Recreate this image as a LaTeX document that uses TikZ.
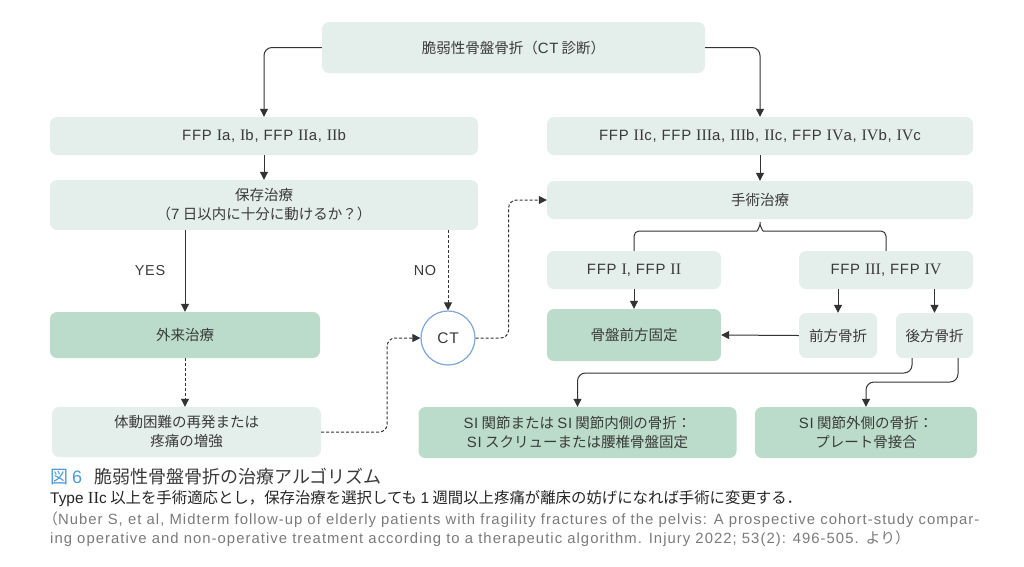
\documentclass[tikz,border=0pt]{standalone}
\usepackage{fontspec}
\setmainfont{Noto Sans CJK JP}
\newfontfamily\latfont{Liberation Sans}
\newfontfamily\boxlat[LetterSpace=5,Scale=1.03]{Liberation Sans}
\newfontfamily\reffont[LetterSpace=7]{Liberation Sans}
\newfontfamily\romfont[Scale=1.1]{Liberation Serif}
\newcommand\rn[1]{{\romfont #1}}
\usetikzlibrary{arrows.meta,calc}

\definecolor{boxlight}{HTML}{E4EEEA}
\definecolor{boxdark}{HTML}{BBDCCA}
\definecolor{linecol}{HTML}{333333}
\definecolor{textcol}{HTML}{3A3A3A}
\definecolor{ctblue}{HTML}{7EA6D8}
\definecolor{figblue}{HTML}{4A9BD6}
\definecolor{refgray}{HTML}{7A7A7A}

\tikzset{
  lightbox/.style={rounded corners=7pt, fill=boxlight, text=textcol, align=center,
    font=\fontsize{14.5}{19}\selectfont, inner sep=0pt},
  darkbox/.style={lightbox, fill=boxdark},
  conn/.style={draw=linecol, line width=1pt, rounded corners=8pt},
  arr/.style={conn, -{Triangle[length=8pt,width=8pt]}},
  dasharr/.style={arr, dashed, dash pattern=on 3pt off 2pt},
  lbl/.style={text=textcol, font=\boxlat\fontsize{14}{16}\selectfont}
}

\begin{document}
\begin{tikzpicture}[x=1pt,y=-1pt]
    \useasboundingbox (0,0) rectangle (1024,566);

    % boxes
    \node[lightbox, minimum width=383pt, minimum height=51pt] (diag) at (513.5,47.5) {脆弱性骨盤骨折（{\boxlat CT} 診断）};
    \node[lightbox, minimum width=428pt, minimum height=38pt] (ffpA) at (264,136)
      {\boxlat FFP \rn{I}a, \rn{I}b, FFP \rn{II}a, \rn{II}b};
    \node[lightbox, minimum width=426pt, minimum height=38pt] (ffpB) at (760,136)
      {\boxlat FFP \rn{II}c, FFP \rn{III}a, \rn{III}b, \rn{II}c, FFP \rn{IV}a, \rn{IV}b, \rn{IV}c};
    \node[lightbox, minimum width=428pt, minimum height=50pt] (hozon) at (264,205) {保存治療\\（{\boxlat 7} 日以内に十分に動けるか？）};
    \node[lightbox, minimum width=426pt, minimum height=38pt] (shujutsu) at (760,200) {手術治療};
    \node[lightbox, minimum width=174pt, minimum height=38pt] (ffp12) at (634,270) {\boxlat FFP \rn{I}, FFP \rn{II}};
    \node[lightbox, minimum width=174pt, minimum height=38pt] (ffp34) at (886,270) {\boxlat FFP \rn{III}, FFP \rn{IV}};
    \node[darkbox, minimum width=174pt, minimum height=52pt] (kotei) at (634,335) {骨盤前方固定};
    \node[lightbox, minimum width=78pt, minimum height=45pt] (zenpo) at (838,335.5) {前方骨折};
    \node[lightbox, minimum width=77pt, minimum height=45pt] (koho) at (934.5,335.5) {後方骨折};
    \node[darkbox, minimum width=270pt, minimum height=46pt] (gairai) at (185,335) {外来治療};
    \node[lightbox, minimum width=269pt, minimum height=50pt] (taido) at (186.5,432) {体動困難の再発または\\疼痛の増強};
    \node[circle, draw=ctblue, line width=1.2pt, fill=white, minimum size=54pt, inner sep=0pt,
      text=textcol, font=\boxlat\fontsize{15}{16}\selectfont] (ct) at (448,338) {CT};
    \node[darkbox, minimum width=318pt, minimum height=51pt] (si1) at (577.5,432.5)
      {{\boxlat SI} 関節または {\boxlat SI} 関節内側の骨折：\\{\boxlat SI} スクリューまたは腰椎骨盤固定};
    \node[darkbox, minimum width=222pt, minimum height=51pt] (si2) at (866,432.5) {{\boxlat SI} 関節外側の骨折：\\プレート骨接合};

    % connectors
    \draw[arr] (diag.west) -| (ffpA.north);
    \draw[arr] (diag.east) -| (ffpB.north);
    \draw[arr] (ffpA.south) -- (hozon.north);
    \draw[arr] (ffpB.south) -- (shujutsu.north);
    \draw[arr] (gairai.north |- hozon.south) -- node[lbl, midway, left=16pt] {YES} (gairai.north);
    \draw[dasharr] (ct.north |- hozon.south) -- node[lbl, midway, left=8pt] {NO} (ct.north);
    \draw[dasharr] (gairai.south) -- (gairai.south |- taido.north);
    \draw[dasharr] (taido.east) -- ++(66,0) |- (ct.west);
    \draw[dasharr] (ct.east) -- ++(33,0) |- (shujutsu.west);
    \draw[conn, rounded corners=5pt] (ffp12.north) |- (752,231) to[out=0,in=-90] (shujutsu.south)
      to[out=-90,in=180] (768,231) -| (ffp34.north);
    \draw[arr] (ffp12.south) -- (kotei.north);
    \draw[arr] (zenpo.north |- ffp34.south) -- (zenpo.north);
    \draw[arr] (koho.north |- ffp34.south) -- (koho.north);
    \draw[arr] (zenpo.west) -- (kotei.east);
    \coordinate (kohoA) at (912,358);
    \coordinate (kohoB) at (958,358);
    \draw[arr] (kohoA) -- ++(0,15) -| (si1.north);
    \draw[arr] (kohoB) -- ++(0,24) -| (si2.north);

    % caption
    \node[anchor=west, inner sep=0pt, text=textcol, font=\fontsize{18}{20}\selectfont] (cap1) at (50,477)
      {\textcolor{figblue}{図 {\latfont 6}}\hspace{12pt}脆弱性骨盤骨折の治療アルゴリズム};
    \node[anchor=west, inner sep=0pt, text=black!85, font=\fontsize{15.4}{18}\selectfont] (cap2) at (50,499)
      {{\latfont Type \rn{II}c} 以上を手術適応とし，保存治療を選択しても {\latfont 1} 週間以上疼痛が離床の妨げになれば手術に変更する．};
    \node[anchor=west, inner sep=0pt, text=refgray, font=\reffont\fontsize{14.85}{16}\selectfont] (cap3) at (50,520)
      {\kern-7pt{\rmfamily （}Nuber S, et al, Midterm follow-up of elderly patients with fragility fractures of the pelvis: A prospective cohort-study compar-};
    \node[anchor=west, inner sep=0pt, text=refgray, font=\reffont\fontsize{14.85}{16}\selectfont] (cap4) at (50,539)
      {ing operative and non-operative treatment according to a therapeutic algorithm. Injury 2022; 53(2): 496-505. {\rmfamily より）}};
\end{tikzpicture}
\end{document}
